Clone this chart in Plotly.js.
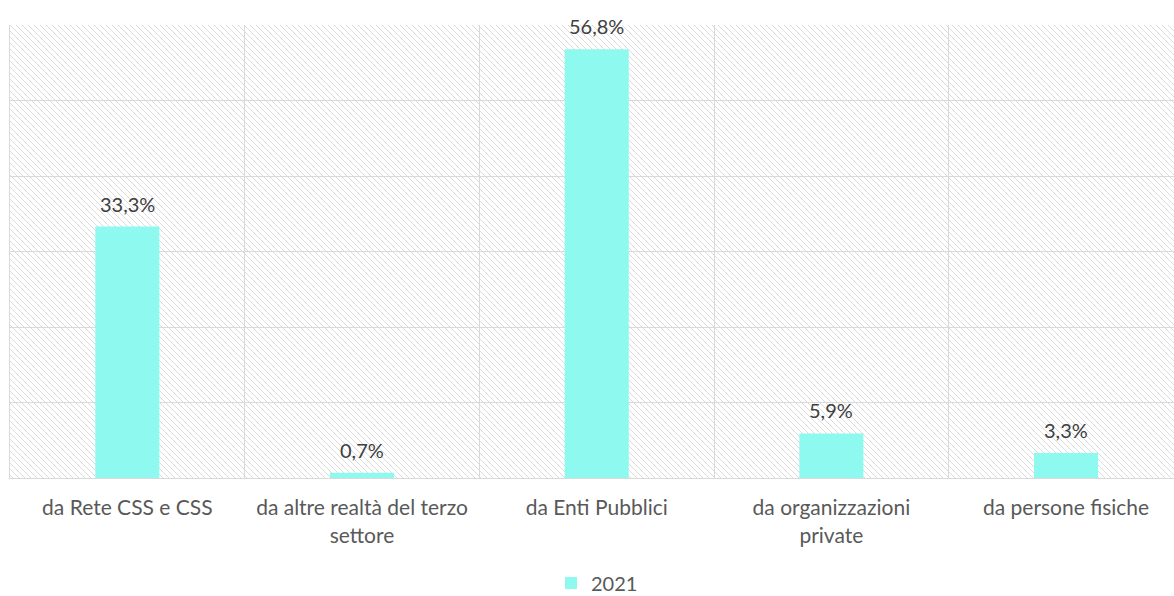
<!DOCTYPE html>
<html>
<head>
<meta charset="utf-8">
<script src="https://cdn.plot.ly/plotly-3.0.1.min.js"></script>
<style>html,body{margin:0;padding:0;background:#fff;}#chart{width:1174px;height:596px;}</style>
</head>
<body>
<div id="chart"></div>
<script>
const categories = [
  "da Rete CSS e CSS",
  "da altre realtà del terzo<br>settore",
  "da Enti Pubblici",
  "da organizzazioni<br>private",
  "da persone fisiche"
];
const values2021 = [33.3, 0.7, 56.8, 5.9, 3.3];
const seriesName = "2021";

const W = 1174, H = 596;
const margin = {l: 10, r: 0, t: 25, b: 118};
const pw = W - margin.l - margin.r, ph = H - margin.t - margin.b;

const hatchSvg =
  '<svg xmlns="http://www.w3.org/2000/svg" width="' + pw + '" height="' + ph + '" viewBox="0 0 ' + pw + ' ' + ph + '" preserveAspectRatio="none">' +
  '<defs><pattern id="h" patternUnits="userSpaceOnUse" width="6" height="6">' +
  '<path d="M-1,-1 L7,7 M-4,2 L2,8 M4,-2 L8,2" stroke="#dbdbdb" stroke-width="1"/>' +
  '</pattern></defs><rect width="100%" height="100%" fill="#ffffff"/><rect width="100%" height="100%" fill="url(#h)"/></svg>';
const hatchUri = 'data:image/svg+xml;charset=utf-8,' + encodeURIComponent(hatchSvg);

const font = "Lato, 'Open Sans', sans-serif";

const trace = {
  type: 'bar',
  x: categories,
  y: values2021,
  name: seriesName,
  width: 0.273,
  marker: {color: '#8ef9ee'},
  hoverinfo: 'skip'
};

const labels = categories.map((c, i) => ({
  x: c, y: values2021[i], xref: 'x', yref: 'y',
  text: values2021[i].toFixed(1).replace('.', ',') + '%',
  showarrow: false, yanchor: 'bottom', yshift: 9,
  font: {family: font, size: 20, color: '#404040'}
}));

const layout = {
  width: W, height: H,
  margin: margin,
  separators: ',.',
  paper_bgcolor: '#ffffff',
  plot_bgcolor: 'rgba(0,0,0,0)',
  font: {family: font, size: 20, color: '#595959'},
  showlegend: true,
  legend: {orientation: 'h', x: 0.5 + 5 / pw, xanchor: 'center', yref: 'container', y: 0.022, yanchor: 'middle',
           font: {family: font, size: 20, color: '#595959'}},
  annotations: labels,
  images: [{source: hatchUri, xref: 'paper', yref: 'paper', x: 0, y: 1,
            sizex: 1, sizey: 1, xanchor: 'left', yanchor: 'top', sizing: 'stretch', layer: 'below'}],
  xaxis: {
    type: 'category',
    range: [-0.5, 4.46],
    tickson: 'boundaries',
    showgrid: true, gridcolor: '#d9d9d9', gridwidth: 1,
    showline: true, linecolor: '#d9d9d9', linewidth: 1,
    ticks: '', ticklabelstandoff: 11,
    tickfont: {family: font, size: 21, color: '#595959'},
    automargin: false,
    fixedrange: true
  },
  yaxis: {
    range: [0, 60], dtick: 10,
    showgrid: true, gridcolor: '#d9d9d9', gridwidth: 1,
    showticklabels: false, zeroline: false,
    showline: true, linecolor: '#d9d9d9',
    fixedrange: true
  }
};

Plotly.newPlot('chart', [trace], layout, {displayModeBar: false, staticPlot: true});
</script>
</body>
</html>
